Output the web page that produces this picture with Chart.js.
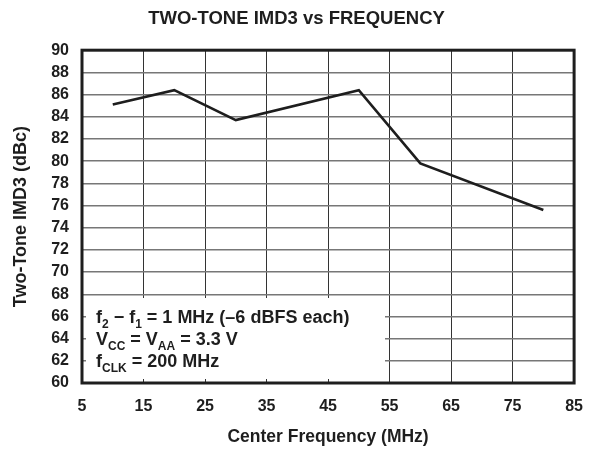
<!DOCTYPE html>
<html>
<head>
<meta charset="utf-8">
<script src="https://cdn.jsdelivr.net/npm/chart.js@4.4.1/dist/chart.umd.min.js"></script>
<style>
  html, body { margin: 0; padding: 0; background: #fff; }
  #wrap { width: 597px; height: 451px; }
</style>
</head>
<body>
<div id="wrap"><canvas id="chart-imd3"></canvas></div>
<script>
    // values
    const freqMHz = [10, 20, 30, 50, 60, 80];
    const imd3dBc = [85.1, 86.4, 83.7, 86.4, 79.8, 75.6];
    const xTicks = [5, 15, 25, 35, 45, 55, 65, 75, 85];
    const yTicks = [60, 62, 64, 66, 68, 70, 72, 74, 76, 78, 80, 82, 84, 86, 88, 90];

    // note lines: [text, isSubscript]
    const noteLines = [
        [['f', false], ['2', true], [' \u2212 f', false], ['1', true], [' = 1 MHz (\u20136 dBFS each)', false]],
        [['V', false], ['CC', true], [' = V', false], ['AA', true], [' = 3.3 V', false]],
        [['f', false], ['CLK', true], [' = 200 MHz', false]]
    ];

    const FONT = '"Liberation Sans", Arial, Helvetica, sans-serif';
    const INK = '#1e1e1e';

    const notePlugin = {
        id: 'notebox',
        beforeDatasetsDraw(chart) {
            const ctx = chart.ctx;
            const a = chart.chartArea;
            ctx.save();
            ctx.fillStyle = '#fff';
            ctx.fillRect(a.left + 4, a.bottom - 85, 299, 81);
            ctx.fillStyle = INK;
            ctx.textBaseline = 'alphabetic';
            let y = a.bottom - 60;
            noteLines.forEach(line => {
                let x = a.left + 14;
                line.forEach(([txt, sub]) => {
                    ctx.font = sub ? 'bold 12px ' + FONT : 'bold 18px ' + FONT;
                    ctx.fillText(txt, x, sub ? y + 5 : y);
                    x += ctx.measureText(txt).width;
                });
                y += 22;
            });
            ctx.restore();
        },
        afterDatasetsDraw(chart) {
            const ctx = chart.ctx;
            const a = chart.chartArea;
            ctx.save();
            ctx.strokeStyle = INK;
            ctx.lineWidth = 3;
            ctx.strokeRect(a.left, a.top, a.right - a.left, a.bottom - a.top);
            ctx.restore();
        }
    };

    const config = {
        type: 'line',
        data: {
            datasets: [{
                data: freqMHz.map((f, i) => ({x: f, y: imd3dBc[i]})),
                borderColor: INK,
                borderWidth: 2.6,
                pointRadius: 0,
                tension: 0,
                fill: false
            }]
        },
        options: {
            responsive: false,
            animation: false,
            layout: { padding: { left: 10, right: 14, top: 0, bottom: 0 } },
            plugins: {
                legend: { display: false },
                tooltip: { enabled: false },
                title: {
                    display: true,
                    text: 'TWO-TONE IMD3 vs FREQUENCY',
                    color: INK,
                    font: { family: FONT, size: 18.5, weight: 'bold' },
                    padding: { top: 8, bottom: 20 }
                }
            },
            scales: {
                x: {
                    type: 'linear',
                    min: 5,
                    max: 85,
                    afterBuildTicks: (scale) => { scale.ticks = xTicks.map(v => ({value: v})); },
                    afterFit: (scale) => { scale.height = 68; },
                    grid: { color: '#333', lineWidth: 1, drawTicks: false },
                    border: { display: false },
                    ticks: {
                        color: INK,
                        padding: 14,
                        autoSkip: false,
                        maxRotation: 0,
                        font: { family: FONT, size: 16, weight: 'bold' }
                    },
                    title: {
                        display: true,
                        text: 'Center Frequency (MHz)',
                        color: INK,
                        font: { family: FONT, size: 17.5, weight: 'bold' },
                        padding: { top: 4, bottom: 3 }
                    }
                },
                y: {
                    min: 60,
                    max: 90,
                    afterBuildTicks: (scale) => { scale.ticks = yTicks.map(v => ({value: v})); },
                    afterFit: (scale) => { scale.width = 72; },
                    grid: { color: '#777', lineWidth: 1.5, drawTicks: false },
                    border: { display: false },
                    ticks: {
                        color: INK,
                        padding: 13,
                        autoSkip: false,
                        font: { family: FONT, size: 16, weight: 'bold' }
                    },
                    title: {
                        display: true,
                        text: 'Two-Tone IMD3 (dBc)',
                        color: INK,
                        font: { family: FONT, size: 18, weight: 'bold' },
                        padding: { top: 0, bottom: 0 }
                    }
                }
            }
        },
        plugins: [notePlugin]
    };

    const canvas = document.getElementById('chart-imd3');
    canvas.width = 597;
    canvas.height = 451;
    var imdChart = new Chart(canvas, config);
</script>
</body>
</html>
